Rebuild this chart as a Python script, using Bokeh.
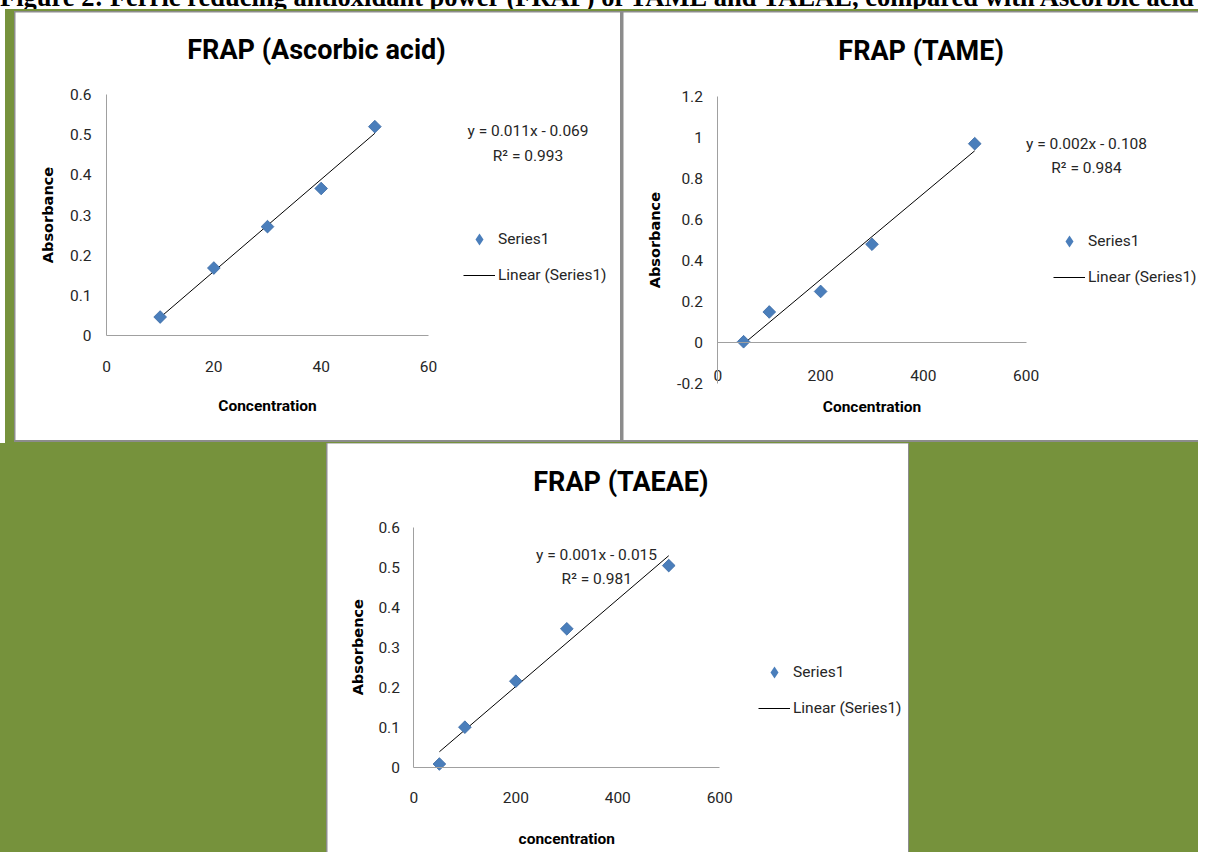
import numpy as np
from bokeh.plotting import figure
from bokeh.models import Range1d, FixedTicker, Label, Legend, LegendItem, Div, Spacer
from bokeh.layouts import row, column
from bokeh.embed import file_html
from bokeh.resources import INLINE

# ---------------- data ----------------
asc_conc = [10, 20, 30, 40, 50]
asc_abs = [0.046, 0.168, 0.271, 0.366, 0.520]
tame_conc = [50, 100, 200, 300, 500]
tame_abs = [0.005, 0.150, 0.250, 0.480, 0.970]
taeae_conc = [50, 100, 200, 300, 500]
taeae_abs = [0.008, 0.100, 0.215, 0.346, 0.504]

asc_equation = "y = 0.011x - 0.069"
asc_r2 = "R² = 0.993"
tame_equation = "y = 0.002x - 0.108"
tame_r2 = "R² = 0.984"
taeae_equation = "y = 0.001x - 0.015"
taeae_r2 = "R² = 0.981"

asc_xticks = [0, 20, 40, 60]
asc_xlabels = ["0", "20", "40", "60"]
asc_yticks = [0, 0.1, 0.2, 0.3, 0.4, 0.5, 0.6]
asc_ylabels = ["0", "0.1", "0.2", "0.3", "0.4", "0.5", "0.6"]
tame_xticks = [0, 200, 400, 600]
tame_xlabels = ["0", "200", "400", "600"]
tame_yticks = [-0.2, 0, 0.2, 0.4, 0.6, 0.8, 1.0, 1.2]
tame_ylabels = ["-0.2", "0", "0.2", "0.4", "0.6", "0.8", "1", "1.2"]
taeae_xticks = [0, 200, 400, 600]
taeae_xlabels = ["0", "200", "400", "600"]
taeae_yticks = [0, 0.1, 0.2, 0.3, 0.4, 0.5, 0.6]
taeae_ylabels = ["0", "0.1", "0.2", "0.3", "0.4", "0.5", "0.6"]

figure_title = ("Figure 2: Ferric reducing antioxidant power (FRAP) of TAME and TAEAE, "
                "compared with Ascorbic acid")
titles = ["FRAP (Ascorbic acid)", "FRAP (TAME)", "FRAP (TAEAE)"]
x_titles = ["Concentration", "Concentration", "concentration"]
y_titles = ["Absorbance", "Absorbance", "Absorbence"]
series_name = "Series1"
trend_name = "Linear (Series1)"

# ---------------- styling ----------------
GREEN = "#76923C"
GRAY = "#8c8c8c"
BLUE = "#4a7ebb"
BLUE_EDGE = "#3c6ba5"
AXIS = "#a0a0a0"
TXT = "#262626"
FONT = "Roboto"
WIDE_BOLD = "DejaVu Sans"
FS = "15.5px"


def make_panel(title, xs, ys, eq, r2, xticks, xlabels, yticks, ylabels,
               xwin, ywin, xtitle, ytitle, g):
    W, H = g["W"], g["H"]
    left, right, top, bottom = g["box"]          # pixel box of the data window
    kx = (xwin[1] - xwin[0]) / (right - left)
    ky = (ywin[1] - ywin[0]) / (bottom - top)
    xr = Range1d(xwin[0] - left * kx, xwin[1] + (W - right) * kx)
    yr = Range1d(ywin[0] - (H - bottom) * ky, ywin[1] + top * ky)

    p = figure(width=W, height=H, x_range=xr, y_range=yr,
               output_backend="svg", toolbar_location=None, title=None,
               min_border=0, min_border_left=0, min_border_right=0,
               min_border_top=0, min_border_bottom=0,
               background_fill_color="white", border_fill_color="white",
               outline_line_color=None, margin=g["margin"])
    p.grid.visible = False

    xa = p.xaxis[0]
    ya = p.yaxis[0]
    xa.fixed_location = 0
    ya.fixed_location = 0
    xa.bounds = tuple(xwin)
    ya.bounds = tuple(ywin)
    for ax, ticks, labels in ((xa, xticks, xlabels), (ya, yticks, ylabels)):
        ax.ticker = FixedTicker(ticks=ticks)
        ax.major_label_overrides = dict(zip(ticks, labels))
        ax.major_tick_line_color = None
        ax.minor_tick_line_color = None
        ax.major_tick_in = 0
        ax.major_tick_out = 0
        ax.minor_tick_in = 0
        ax.minor_tick_out = 0
        ax.axis_line_color = AXIS
        ax.axis_line_width = 1
        ax.major_label_text_font = FONT
        ax.major_label_text_font_size = FS
        ax.major_label_text_color = TXT
    xa.major_label_standoff = g["xls"]
    ya.major_label_standoff = g["yls"]

    # trendline from a least-squares fit of the data
    k, b = np.polyfit(xs, ys, 1)
    tx = [min(xs), max(xs)]
    ty = [k * v + b for v in tx]
    lr = p.line(tx, ty, line_color="black", line_width=1)
    # legend proxy (diamond glyph for the legend; sits fully under the markers)
    proxy = p.scatter(xs, ys, marker="diamond", size=12, fill_color=BLUE, line_color=None)
    # Excel-style diamonds: squares turned by 45 degrees
    p.scatter(xs, ys, marker="square", size=9, angle=np.pi / 4,
              fill_color=BLUE, line_color=BLUE_EDGE, line_width=0.8)

    legend = Legend(items=[LegendItem(label=series_name, renderers=[proxy]),
                           LegendItem(label=trend_name, renderers=[lr])],
                    location=g["leg"], orientation="vertical",
                    glyph_width=32, glyph_height=30, label_height=30, label_width=20,
                    spacing=6, padding=0, margin=0, label_standoff=3,
                    border_line_color=None, background_fill_alpha=0,
                    label_text_font=FONT, label_text_font_size=FS,
                    label_text_color=TXT)
    p.add_layout(legend)

    def lab(pos, text, size, style="normal", font=FONT, color=TXT, angle=0.0):
        p.add_layout(Label(x=pos[0], y=pos[1], x_units="screen", y_units="screen",
                           text=text, angle=angle, text_align="center",
                           text_baseline="middle", text_font=font,
                           text_font_size=size, text_font_style=style,
                           text_color=color))

    lab(g["title"], title, "27px", "bold", color="black")
    lab(g["eq"], eq, FS)
    lab(g["r2"], r2, FS)
    lab(g["xt"], xtitle, FS, "bold", color="black")
    lab(g["yt"], ytitle, "14.5px", "bold", font=WIDE_BOLD, color="black", angle=np.pi / 2)
    return p


geoA = dict(W=605, H=428, box=(91, 413, 82, 323), margin=(1, 0, 2, 1),
            xls=25, yls=15, leg=(448, 150),
            title=(301, 390.5), eq=(512.5, 310), r2=(512.5, 285),
            xt=(252, 34.5), yt=(32.4, 225.5))
geoB = dict(W=575, H=428, box=(94.4, 402.6, 84, 371.3), margin=(1, 0, 2, 3),
            xls=27, yls=15, leg=(430, 148),
            title=(297.6, 389.5), eq=(463, 296.7), r2=(463, 272.3),
            xt=(248.5, 33.3), yt=(31.3, 200.4))
geoC = dict(W=581, H=409, box=(86.4, 392.2, 83.7, 323.7), margin=(0, 1, 0, 1),
            xls=25, yls=14, leg=(431, 129),
            title=(293.4, 370.3), eq=(269, 298), r2=(269.3, 273.7),
            xt=(239.3, 13.7), yt=(30.1, 205.3))

pA = make_panel(titles[0], asc_conc, asc_abs, asc_equation, asc_r2,
                asc_xticks, asc_xlabels, asc_yticks, asc_ylabels,
                (0, 60), (0, 0.6), x_titles[0], y_titles[0], geoA)
pB = make_panel(titles[1], tame_conc, tame_abs, tame_equation, tame_r2,
                tame_xticks, tame_xlabels, tame_yticks, tame_ylabels,
                (0, 600), (-0.2, 1.2), x_titles[1], y_titles[1], geoB)
pC = make_panel(titles[2], taeae_conc, taeae_abs, taeae_equation, taeae_r2,
                taeae_xticks, taeae_xlabels, taeae_yticks, taeae_ylabels,
                (0, 600), (0, 0.6), x_titles[2], y_titles[2], geoC)

head = Div(text=("<div style=\"position:relative; top:-16px; white-space:nowrap; "
                 "font: bold 26.5px 'Liberation Serif'; line-height:27px; color:black;\">"
                 + figure_title + "</div>"),
           width=1198, height=9, margin=0,
           styles={"overflow": "hidden", "background-color": "white"})

gray_top = row(pA, pB, margin=(2, 0, 1, 9), styles={"background-color": GRAY})
row1 = row(Spacer(width=5, height=434, margin=0, styles={"background-color": "white"}),
           gray_top, margin=0)
gray_bot = row(pC, margin=0, styles={"background-color": GRAY})
row2 = row(Spacer(width=326, height=409, margin=0), gray_bot, margin=0)
page = column(head, row1, row2, margin=0, styles={"background-color": GREEN})

open("out.html", "w").write(file_html(page, INLINE))
